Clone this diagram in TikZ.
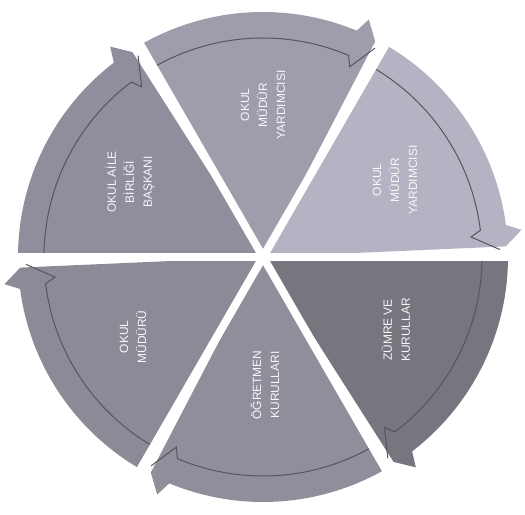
\documentclass[tikz,border=0pt]{standalone}
\usepackage{xcolor,tikz,fontspec}
\setmainfont{Liberation Sans}
\usetikzlibrary{calc}
\definecolor{pieA}{HTML}{B3B3C3}
\definecolor{pieB}{HTML}{9D9DAB}
\definecolor{pieC}{HTML}{8E8E9C}
\definecolor{pieD}{HTML}{8B8B97}
\definecolor{pieE}{HTML}{8F8F9B}
\definecolor{pieF}{HTML}{76767E}
\definecolor{rimline}{HTML}{55555F}

\begin{document}
\begin{tikzpicture}[x=1bp,y=1bp,every node/.style={font=\fontsize{12}{18}\selectfont,text=white!90!pieA,align=center,rotate=90}]
\useasboundingbox (0,0) rectangle (525,515);
\coordinate (O) at (263,258);
% wedges with their arrow ends, clockwise
\foreach \a/\c in {0/pieA,60/pieB,120/pieC,180/pieD,240/pieE,300/pieF}{
  \fill[\c] (O) -- ($(O)+(\a+2.5:243)$) -- ($(O)+(\a+6:260)$) -- ($(O)+(\a+7.5:245)$)
    arc[start angle=\a+7.5,end angle=\a+60,radius=245] -- cycle;
  \draw[rimline,line width=1bp] ($(O)+(\a+60:219)$) arc[start angle=\a+60,end angle=\a+7,radius=219]
    -- ($(O)+(\a+5.5:209)$) -- ($(O)+(\a+1.8:237)$);
}
% gaps
\foreach \a in {0,60,...,300}{\draw[white,line width=8bp] (O) -- ($(O)+(\a:275)$);}
\fill[white] (O) circle (5bp);
\node (omy1) at (263,410) {OKUL\\MÜDÜR\\YARDIMCISI};
\node (omy2) at (395,335) {OKUL\\MÜDÜR\\YARDIMCISI};
\node (oab) at (130,333) {OKUL AİLE\\BİRLİĞİ\\BAŞKANI};
\node (om) at (133,178) {OKUL\\MÜDÜRÜ};
\node (ok) at (265,130) {ÖĞRETMEN\\KURULLARI};
\node (zk) at (396,185) {ZÜMRE VE\\KURULLAR};
\end{tikzpicture}
\end{document}
